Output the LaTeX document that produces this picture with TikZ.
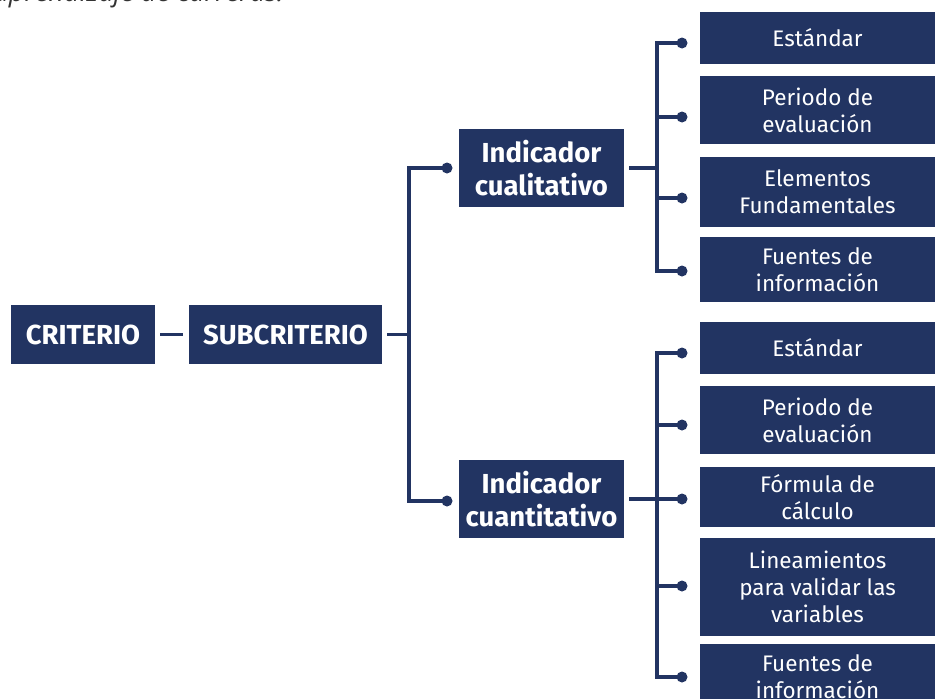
\documentclass[tikz,border=0pt]{standalone}
\usepackage{fontspec}
\setmainfont{Fira Sans}
\newfontfamily\toptextfont{Open Sans}
\definecolor{navy}{HTML}{223462}
\definecolor{toptext}{HTML}{333333}
\begin{document}
\begin{tikzpicture}[x=1pt,y=-1pt,
  box/.style={fill=navy,text=white,inner sep=0pt,align=center},
  bigbox/.style={box,font=\fontsize{27.5}{33}\selectfont\bfseries},
  smallbox/.style={box,font=\fontsize{22.5}{27}\selectfont},
  link/.style={draw=navy,line width=3.4pt},
  dotnode/.style={circle,fill=navy,inner sep=0pt,minimum size=11pt}]
\useasboundingbox (0,0) rectangle (935,699);
\clip (0,0) rectangle (935,699);
\node[anchor=base east,font=\fontsize{27}{32}\selectfont\toptextfont\itshape,text=toptext,inner sep=0pt] (top) at (284,1) {aprendizaje de carreras.};
% main boxes
\node[bigbox,minimum width=144pt,minimum height=59pt] (crit) at (83,334.5) {CRITERIO};
\node[bigbox,minimum width=193pt,minimum height=59pt] (sub) at (285.5,334.5) {SUBCRITERIO};
\node[bigbox,minimum width=165pt,minimum height=78pt] (cual) at (541.5,168) {Indicador\\cualitativo};
\node[bigbox,minimum width=165pt,minimum height=78pt] (cuan) at (541.5,499) {Indicador\\cuantitativo};
% right boxes (top)
\node[smallbox,minimum width=235pt,minimum height=52pt] (r1) at (817.5,38) {Estándar};
\node[smallbox,minimum width=235pt,minimum height=68pt] (r2) at (817.5,110) {Periodo de\\evaluación};
\node[smallbox,minimum width=235pt,minimum height=70pt] (r3) at (817.5,192) {Elementos\\Fundamentales};
\node[smallbox,minimum width=235pt,minimum height=65pt] (r4) at (817.5,269.5) {Fuentes de\\información};
% right boxes (bottom)
\node[smallbox,minimum width=235pt,minimum height=52pt] (s1) at (817.5,348) {Estándar};
\node[smallbox,minimum width=235pt,minimum height=68pt] (s2) at (817.5,420) {Periodo de\\evaluación};
\node[smallbox,minimum width=235pt,minimum height=60pt] (s3) at (817.5,497) {Fórmula de\\cálculo};
\node[smallbox,minimum width=235pt,minimum height=98pt] (s4) at (817.5,587) {Lineamientos\\para validar las\\variables};
\node[smallbox,minimum width=235pt,minimum height=66pt] (s5) at (817.5,677) {Fuentes de\\información};
% dots
\node[dotnode] (dcual) at (447,168) {};
\node[dotnode] (dcuan) at (447,501) {};
\node[dotnode] (dr1) at (682,43) {};
\node[dotnode] (dr2) at (682,117) {};
\node[dotnode] (dr3) at (682,198) {};
\node[dotnode] (dr4) at (682,271) {};
\node[dotnode] (ds1) at (682,353) {};
\node[dotnode] (ds2) at (682,425) {};
\node[dotnode] (ds3) at (682,499) {};
\node[dotnode] (ds4) at (682,586) {};
\node[dotnode] (ds5) at (682,677) {};
% bus coordinates
\coordinate (busL) at (409,334.5);
\coordinate (busT) at (657,168);
\coordinate (busB) at (657,499);
% connectors
\draw[link] ([xshift=5pt]crit.east) -- ([xshift=-6pt]sub.west);
\draw[link] ([xshift=5pt]sub.east) -- (busL);
\draw[link] (dcual.center) -- (dcual.center -| busL) -- (dcuan.center -| busL) -- (dcuan.center);
\draw[link] ([xshift=5pt]cual.east) -- (busT);
\draw[link] (dr1.center) -- (dr1.center -| busT) -- (dr4.center -| busT) -- (dr4.center);
\draw[link] (dr2.center) -- (dr2.center -| busT);
\draw[link] (dr3.center) -- (dr3.center -| busT);
\draw[link] ([xshift=5pt]cuan.east |- busB) -- (busB);
\draw[link] (ds1.center) -- (ds1.center -| busB) -- (ds5.center -| busB) -- (ds5.center);
\draw[link] (ds2.center) -- (ds2.center -| busB);
\draw[link] (ds3.center) -- (ds3.center -| busB);
\draw[link] (ds4.center) -- (ds4.center -| busB);
\end{tikzpicture}
\end{document}
